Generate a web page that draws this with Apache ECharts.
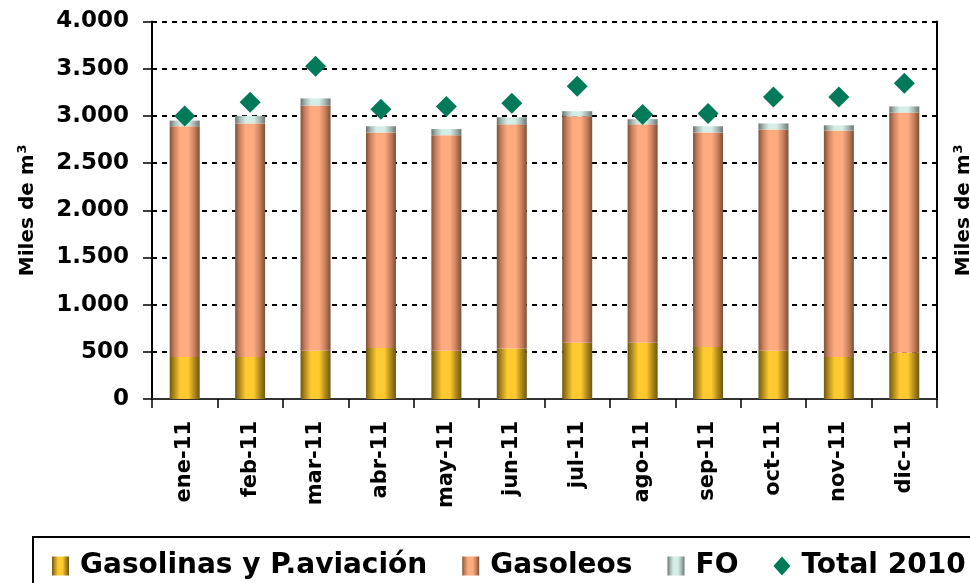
<!DOCTYPE html>
<html>
<head>
<meta charset="utf-8">
<script src="https://cdn.jsdelivr.net/npm/echarts@6/dist/echarts.min.js"></script>
<style>
  html, body { margin: 0; padding: 0; background: #fff; }
  #chart { width: 970px; height: 583px; }
</style>
</head>
<body>
<div id="chart"></div>
<script>
// meses
const categories = ['ene-11', 'feb-11', 'mar-11', 'abr-11', 'may-11', 'jun-11', 'jul-11', 'ago-11', 'sep-11', 'oct-11', 'nov-11', 'dic-11']
// miles de m3
const gasolinas = [445, 445, 510, 540, 510, 535, 595, 595, 550, 510, 445, 490]
const gasoleos = [2445, 2475, 2600, 2285, 2285, 2375, 2400, 2315, 2275, 2345, 2400, 2545]
const fo = [60, 80, 75, 65, 65, 75, 55, 55, 65, 65, 55, 65]
const total2010 = [3000, 3145, 3525, 3070, 3100, 3135, 3315, 3015, 3025, 3200, 3200, 3345]
const yTickLabels = ['0', '500', '1.000', '1.500', '2.000', '2.500', '3.000', '3.500', '4.000']

const FONT = 'DejaVu Sans'

// degradado horizontal tipo cilindro
function barGradient(dark, mid, light, dark2) {
  return new echarts.graphic.LinearGradient(0, 0, 1, 0, [
    { offset: 0, color: dark },
    { offset: 0.15, color: mid },
    { offset: 0.35, color: light },
    { offset: 0.62, color: light },
    { offset: 0.82, color: mid },
    { offset: 1, color: dark2 }
  ])
}

const axisName = '{a|Miles de m}{b|3}'
const axisNameStyle = {
  fontFamily: FONT,
  fontWeight: 'bold',
  color: '#000',
  rich: {
    a: { fontFamily: FONT, fontWeight: 'bold', fontSize: 20, color: '#000', lineHeight: 24 },
    b: { fontFamily: FONT, fontWeight: 'bold', fontSize: 13, color: '#000', verticalAlign: 'top', lineHeight: 24, padding: [0, 0, 10, 1] }
  }
}

const chart = echarts.init(document.getElementById('chart'))
chart.setOption({
  animation: false,
  textStyle: { fontFamily: FONT, fontWeight: 'bold', color: '#000' },
  grid: { left: 152, right: 33, top: 21.5, bottom: 184, containLabel: false, outerBoundsMode: 'none' },
  legend: {
    left: 33,
    top: 537,
    width: 1000,
    padding: [15, 40, 20, 19],
    borderColor: '#000',
    borderWidth: 2,
    itemGap: 35,
    itemWidth: 17,
    itemHeight: 19,
    textStyle: { fontFamily: FONT, fontWeight: 'bold', fontSize: 28, color: '#000', padding: [0, 0, 0, 6] },
    data: [
      { name: 'Gasolinas y P.aviación', icon: 'rect' },
      { name: 'Gasoleos', icon: 'rect' },
      { name: 'FO', icon: 'rect' },
      { name: 'Total 2010', icon: 'diamond' }
    ]
  },
  xAxis: {
    type: 'category',
    data: categories,
    axisLine: { lineStyle: { color: '#333', width: 2 } },
    axisTick: { show: true, length: 9, lineStyle: { color: '#000', width: 1.5 } },
    axisLabel: { rotate: 90, margin: 22, fontSize: 21, fontFamily: FONT, fontWeight: 'bold', color: '#000' }
  },
  yAxis: [
    {
      type: 'value',
      min: 0,
      max: 4000,
      interval: 500,
      name: axisName,
      nameLocation: 'middle',
      nameRotate: 90,
      nameGap: 112,
      nameTextStyle: axisNameStyle,
      axisLine: { show: true, lineStyle: { color: '#000', width: 2 } },
      axisTick: { show: true, inside: false, length: 9, lineStyle: { color: '#000', width: 1.5 } },
      axisLabel: {
        margin: 23,
        fontSize: 23,
        fontFamily: FONT,
        fontWeight: 'bold',
        color: '#000',
        formatter: (v) => yTickLabels[Math.round(v / 500)]
      },
      splitLine: { show: true, lineStyle: { color: '#000', width: 2, type: [5, 5] } }
    },
    {
      type: 'value',
      position: 'right',
      min: 0,
      max: 4000,
      interval: 500,
      name: axisName,
      nameLocation: 'middle',
      nameRotate: 90,
      nameGap: 15,
      nameTextStyle: axisNameStyle,
      axisLine: { show: true, lineStyle: { color: '#000', width: 2 } },
      axisTick: { show: false },
      axisLabel: { show: false },
      splitLine: { show: false }
    }
  ],
  series: [
    {
      name: 'Gasolinas y P.aviación',
      type: 'bar',
      stack: 'total',
      barWidth: 30,
      data: gasolinas,
      itemStyle: { color: barGradient('#6e5810', '#b08a1c', '#ffca30', '#6b5714') }
    },
    {
      name: 'Gasoleos',
      type: 'bar',
      stack: 'total',
      barWidth: 30,
      data: gasoleos,
      itemStyle: { color: barGradient('#7e5237', '#c9805d', '#ffab80', '#7a5037') }
    },
    {
      name: 'FO',
      type: 'bar',
      stack: 'total',
      barWidth: 30,
      data: fo,
      itemStyle: { color: barGradient('#66716f', '#a4b5b1', '#d5ede7', '#6b7674') }
    },
    {
      name: 'Total 2010',
      type: 'scatter',
      symbol: 'diamond',
      symbolSize: [21, 21],
      data: total2010,
      itemStyle: { color: '#007a58', opacity: 1 },
      z: 5
    }
  ]
})
</script>
</body>
</html>
